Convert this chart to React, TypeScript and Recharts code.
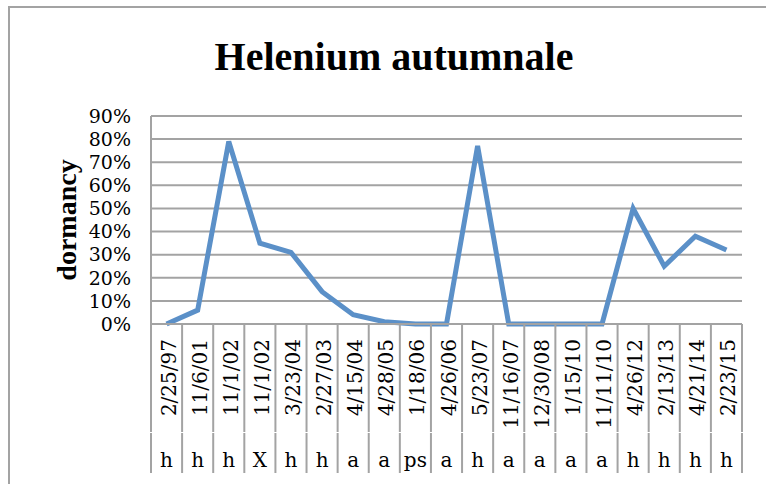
import React from 'react';
import { LineChart, Line, XAxis, YAxis, CartesianGrid } from 'recharts';

const dates = ['2/25/97', '11/6/01', '11/1/02', '11/1/02', '3/23/04', '2/27/03', '4/15/04', '4/28/05', '1/18/06', '4/26/06', '5/23/07', '11/16/07', '12/30/08', '1/15/10', '11/11/10', '4/26/12', '2/13/13', '4/21/14', '2/23/15'];
const groups = ['h', 'h', 'h', 'X', 'h', 'h', 'a', 'a', 'ps', 'a', 'h', 'a', 'a', 'a', 'a', 'h', 'h', 'h', 'h'];
const dormancy = [0, 0.06, 0.79, 0.35, 0.31, 0.14, 0.04, 0.01, 0, 0, 0.77, 0, 0, 0, 0, 0.5, 0.25, 0.38, 0.32];
const yTicks = [0, 0.1, 0.2, 0.3, 0.4, 0.5, 0.6, 0.7, 0.8, 0.9];

const data = dates.map((d, i) => ({ key: String(i), date: d, group: groups[i], value: dormancy[i] }));

const W = 766;
const H = 484;
const LEFT = 151;
const RIGHT_M = 24;
const PLOT_W = W - LEFT - RIGHT_M;
const HALF = PLOT_W / dates.length / 2;
const GRID = '#a3a3a3';
const TICK_FONT = '"DejaVu Serif", serif';

const DateTick = (props: any) => {
  const { x, y, payload } = props;
  const i = Number(payload.value);
  const ty = y + 15;
  return (
    <g>
      <line x1={x - HALF} x2={x - HALF} y1={y} y2={y + 108} stroke={GRID} strokeWidth={2} />
      {i === dates.length - 1 && (
        <line x1={x + HALF} x2={x + HALF} y1={y} y2={y + 108} stroke={GRID} strokeWidth={2} />
      )}
      <text
        x={x}
        y={ty}
        dy={9}
        transform={`rotate(-90, ${x}, ${ty})`}
        textAnchor="end"
        fontFamily={TICK_FONT}
        fontSize={20}
        fill="#000"
      >
        {dates[i]}
      </text>
    </g>
  );
};

const GroupTick = (props: any) => {
  const { x, y, payload } = props;
  const i = Number(payload.value);
  return (
    <g>
      <line x1={x - HALF} x2={x - HALF} y1={y + 1} y2={y + 41} stroke={GRID} strokeWidth={2} />
      {i === dates.length - 1 && (
        <line x1={x + HALF} x2={x + HALF} y1={y + 1} y2={y + 41} stroke={GRID} strokeWidth={2} />
      )}
      <text x={x} y={y + 35} textAnchor="middle" fontFamily={TICK_FONT} fontSize={20} fill="#000">
        {groups[i]}
      </text>
    </g>
  );
};

export default function App() {
  return (
    <div style={{ position: 'absolute', left: 0, top: 0, width: W, height: H, background: '#fff' }}>
      <LineChart width={W} height={H} data={data} margin={{ top: 116, right: RIGHT_M, left: 0, bottom: 11 }}>
        <path d={`M 9 ${H} V 7 H ${W}`} fill="none" stroke={GRID} strokeWidth={2} />
        <text
          x={394}
          y={70}
          textAnchor="middle"
          fontFamily='"Liberation Serif", serif'
          fontWeight="bold"
          fontSize={40}
          fill="#000"
        >
          Helenium autumnale
        </text>
        <text
          x={76}
          y={220}
          transform="rotate(-90, 76, 220)"
          textAnchor="middle"
          fontFamily='"Liberation Serif", serif'
          fontWeight="bold"
          fontSize={28}
          fill="#000"
        >
          dormancy
        </text>
        <CartesianGrid horizontal vertical={false} stroke={GRID} strokeWidth={2} strokeDasharray="" />
        <XAxis
          dataKey="key"
          interval={0}
          height={108}
          padding={{ left: HALF, right: HALF }}
          axisLine={{ stroke: GRID, strokeWidth: 2 }}
          tickLine={false}
          tickSize={0}
          tickMargin={0}
          tick={<DateTick />}
        />
        <XAxis
          xAxisId="grp"
          dataKey="key"
          interval={0}
          height={41}
          padding={{ left: HALF, right: HALF }}
          axisLine={false}
          tickLine={false}
          tickSize={0}
          tickMargin={0}
          tick={<GroupTick />}
        />
        <YAxis
          width={LEFT}
          domain={[0, 0.9]}
          ticks={yTicks}
          interval={0}
          tickFormatter={(v: number) => `${Math.round(v * 100)}%`}
          axisLine={{ stroke: GRID, strokeWidth: 2 }}
          tickLine={false}
          tickSize={0}
          tickMargin={20}
          tick={{ fontFamily: TICK_FONT, fontSize: 19, fill: '#000' }}
        />
        <Line
          dataKey="value"
          type="linear"
          stroke="#5B90C8"
          strokeWidth={5}
          dot={false}
          activeDot={false}
          isAnimationActive={false}
        />
      </LineChart>
    </div>
  );
}
